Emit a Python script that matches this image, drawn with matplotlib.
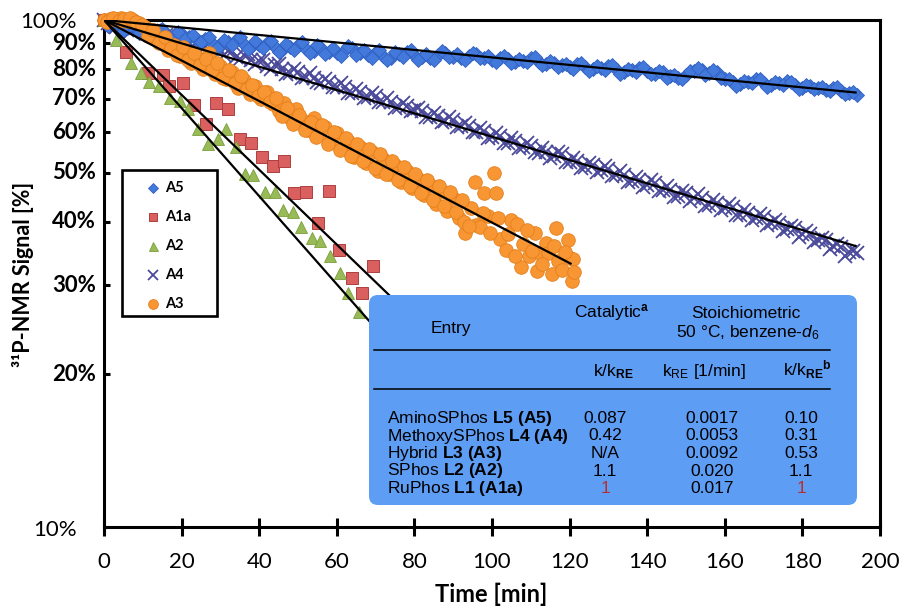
import numpy as np
import matplotlib
matplotlib.use("Agg")
import matplotlib.pyplot as plt
from matplotlib.patches import FancyBboxPatch, Rectangle
from matplotlib.lines import Line2D
from matplotlib.ticker import FixedLocator, NullLocator
import matplotlib.transforms as mtransforms

plt.rcParams['mathtext.fontset'] = 'custom'
plt.rcParams['mathtext.rm'] = 'Liberation Sans'
plt.rcParams['mathtext.it'] = 'Liberation Sans:italic'
plt.rcParams['mathtext.bf'] = 'Liberation Sans:bold'

# ---------------- data ----------------
# A5 (even minutes, then odd minutes)
t_a5 = [0, 2, 4, 6, 8, 10, 12, 14, 16, 18, 20, 22, 24, 26, 28, 30, 32, 34, 36, 38,
        40, 42, 44, 46, 48, 50, 52, 54, 56, 58, 60, 62, 64, 66, 68, 70, 72, 74, 76, 78,
        80, 82, 84, 86, 88, 90, 92, 94, 96, 98, 100, 102, 104, 106, 108, 110, 112, 114,
        116, 118, 120, 122, 124, 126, 128, 130, 132, 134, 136, 138, 140, 142, 144, 146,
        148, 150, 152, 154, 156, 158, 160, 162, 164, 166, 168, 170, 172, 174, 176, 178,
        180, 182, 184, 186, 188, 190, 192, 194]
y_a5 = [100.0, 98.8, 97.6, 96.4, 96.9, 95.6, 94.6, 95.3, 93.9, 93.0, 93.7, 92.4, 91.5,
        91.6, 89.8, 89.0, 90.4, 91.3, 89.6, 88.4, 89.3, 90.0, 88.3, 87.4, 88.6, 89.4,
        87.7, 86.8, 88.2, 86.5, 85.9, 87.1, 87.9, 86.1, 85.2, 86.4, 84.9, 84.3, 85.5,
        86.4, 85.2, 84.4, 84.1, 85.3, 86.0, 84.6, 84.0, 84.8, 85.5, 84.2, 83.4, 84.3,
        83.7, 82.5, 83.1, 84.0, 82.8, 81.8, 82.3, 81.4, 80.8, 81.9, 80.9, 79.9, 80.4,
        81.0, 79.9, 78.9, 79.6, 80.3, 79.5, 78.4, 78.9, 77.6, 77.0, 77.9, 79.4, 79.8,
        78.6, 78.9, 76.6, 75.3, 74.9, 75.6, 76.4, 75.2, 74.3, 75.0, 75.7, 74.3, 73.5,
        74.2, 73.4, 72.9, 73.3, 72.6, 71.8, 71.0]
t_a5_odd = [1, 3, 5, 7, 9, 11, 13, 15, 17, 19, 21, 23, 25, 27, 29, 31, 33, 35, 37, 39,
            41, 43, 45, 47, 49, 51, 53, 55, 57, 59, 61, 63, 65, 67, 69, 71, 73, 75, 77,
            79, 81, 83, 85, 87, 89, 91, 93, 95, 97, 99, 101, 103, 105, 107, 109, 111,
            113, 115, 117, 119, 121, 123, 125, 127, 129, 131, 133, 135, 137, 139, 141,
            143, 145, 147, 149, 151, 153, 155, 157, 159, 161, 163, 165, 167, 169, 171,
            173, 175, 177, 179, 181, 183, 185, 187, 189, 191, 193]
y_a5_odd = [97.2, 99.0, 95.2, 97.9, 94.2, 96.4, 93.0, 95.9, 92.0, 94.9, 91.6, 93.5, 90.4,
            92.4, 88.0, 91.5, 89.2, 92.4, 87.6, 90.8, 88.2, 91.0, 86.5, 89.6, 87.4, 90.4,
            85.9, 89.2, 85.6, 88.0, 85.0, 89.0, 85.4, 87.3, 84.3, 87.4, 83.4, 86.4, 84.6,
            87.3, 83.4, 85.5, 83.4, 86.7, 84.6, 85.6, 83.2, 86.2, 84.0, 85.1, 82.7, 84.9,
            82.2, 83.8, 82.6, 84.6, 81.4, 83.0, 80.9, 82.0, 80.1, 82.3, 79.5, 81.0, 79.7,
            81.5, 78.4, 80.2, 79.0, 80.8, 78.1, 79.4, 77.0, 78.0, 76.5, 79.2, 80.4, 78.0,
            79.6, 76.9, 76.4, 74.2, 75.9, 75.2, 76.6, 73.9, 75.4, 74.5, 75.6, 73.2, 74.6,
            73.0, 73.9, 72.3, 73.6, 71.6, 72.2]

# A4 (even minutes, then odd minutes)
t_a4 = list(t_a5)
y_a4 = [100.0, 98.3, 98.2, 95.7, 96.6, 95.2, 95.2, 93.1, 93.6, 91.7, 91.9, 89.9, 90.4,
        88.3, 88.8, 86.7, 86.8, 84.5, 85.2, 83.4, 83.0, 81.0, 81.7, 80.1, 78.6, 78.9,
        77.3, 77.0, 75.1, 75.5, 73.9, 73.7, 71.8, 72.1, 70.5, 70.8, 69.0, 69.0, 67.3,
        67.7, 66.3, 66.0, 64.5, 64.6, 63.3, 63.4, 61.7, 61.8, 60.2, 60.3, 58.7, 59.0,
        57.2, 57.6, 56.1, 56.5, 54.7, 55.0, 53.9, 54.3, 52.4, 52.6, 51.2, 51.7, 50.5,
        50.8, 49.4, 49.5, 48.1, 48.3, 47.3, 47.7, 46.2, 46.2, 45.0, 45.5, 44.5, 44.6,
        43.2, 43.5, 42.5, 42.8, 41.3, 41.6, 40.6, 40.8, 39.7, 39.7, 38.7, 38.8, 37.8,
        37.8, 36.8, 36.8, 35.8, 35.7, 34.8, 34.7]
t_a4_odd = list(t_a5_odd)
y_a4_odd = [98.6, 97.0, 97.8, 95.0, 96.9, 94.1, 95.3, 92.2, 93.8, 90.6, 91.8, 88.9, 90.5,
            87.1, 88.9, 85.4, 87.0, 83.6, 85.5, 81.9, 83.3, 80.0, 82.0, 78.4, 80.0, 77.0,
            78.6, 75.3, 76.5, 73.6, 75.0, 71.9, 73.2, 70.3, 71.7, 68.9, 70.2, 67.1, 68.6,
            66.0, 67.2, 64.4, 65.6, 62.9, 64.4, 61.6, 62.7, 60.1, 61.2, 58.6, 59.9, 57.3,
            58.4, 55.9, 57.1, 54.8, 55.9, 53.5, 54.8, 52.5, 53.5, 51.0, 52.3, 50.2, 51.5,
            49.2, 50.3, 47.9, 49.0, 46.9, 48.3, 45.9, 47.1, 44.8, 46.1, 44.0, 45.3, 43.0,
            44.2, 42.1, 43.4, 41.2, 42.2, 40.3, 41.4, 39.5, 40.4, 38.4, 39.3, 37.4, 38.3,
            36.5, 37.2, 35.4, 36.1, 34.3, 35.0]

# A3
t_a3 = [0, 1.5, 3, 4.5, 6, 7.5, 9, 10.5, 12, 13.5, 15, 16.5, 18, 19.5, 21, 22.5, 24,
        25.5, 27, 28.5, 30, 31.5, 33, 34.5, 36, 37.5, 39, 40.5, 42, 43.5, 45, 46.5, 48,
        49.5, 51, 52.5, 54, 55.5, 57, 58.5, 60, 61.5, 63, 64.5, 66, 67.5, 69, 70.5, 72,
        73.5, 75, 76.5, 78, 79.5, 81, 82.5, 84, 85.5, 87, 88.5, 90, 91.5, 93, 94.5,
        95.5, 96, 97, 98, 99, 100.5, 101, 102, 103.5, 105, 106.5, 107.5, 108, 109.5,
        111, 111.5, 112.5, 114, 114.5, 115.5, 116.5, 117, 118, 119.5, 120, 120.6, 121]
y_a3 = [100, 100.6, 100.3, 100.8, 99.6, 100.2, 98.6, 96.8, 94.4, 92.0, 90.6, 87.2, 89.4,
        84.8, 86.6, 82.4, 84.0, 80.2, 86.0, 78.4, 81.0, 76.6, 78.8, 73.4, 76.2, 71.6,
        74.0, 70.0, 72.2, 68.4, 66.2, 68.6, 64.0, 66.6, 63.4, 60.8, 64.2, 59.6, 61.6,
        57.4, 59.8, 55.8, 57.6, 53.6, 56.2, 52.2, 54.8, 50.4, 53.2, 49.6, 51.8, 48.0,
        50.4, 46.6, 48.6, 45.2, 47.2, 43.4, 46.0, 42.0, 44.6, 40.6, 38.0, 42.6,
        48.0, 39.4, 39.0, 45.6, 41.0, 50.0, 45.5, 37.0, 35.2, 40.3, 39.6, 32.6, 36.2,
        34.2, 38.0, 32.0, 34.6, 36.4, 34.7, 31.6, 38.8, 33.4, 32.2, 36.8, 34.0, 30.5,
        33.7]
t_a3_b = [0.75, 2.25, 3.75, 5.25, 6.75, 8.25, 9.75, 11.25, 12.75, 14.25, 15.75, 17.25,
          18.75, 20.25, 21.75, 23.25, 24.75, 26.25, 27.75, 29.25, 30.75, 32.25, 33.75,
          35.25, 36.75, 38.25, 39.75, 41.25, 42.75, 44.25, 45.75, 47.25, 48.75, 50.25,
          51.75, 53.25, 54.75, 56.25, 57.75, 59.25, 60.75, 62.25, 63.75, 65.25, 66.75,
          68.25, 69.75, 71.25, 72.75, 74.25, 75.75, 77.25, 78.75, 80.25, 81.75, 83.25,
          84.75, 86.25, 87.75, 89.25, 90.75, 92.25,
          92.8, 94.0, 97.6, 99.6, 101.6, 104.2, 106.0, 109.0, 110.2, 113.0, 116.0,
          118.8, 121.2]
y_a3_b = [99.0, 100.9, 99.4, 100.5, 101.0, 99.0, 97.6, 93.0, 95.5, 90.2, 92.4, 88.0,
          85.2, 88.6, 83.4, 86.2, 81.6, 83.6, 79.6, 82.4, 77.0, 79.8, 75.2, 77.6, 73.0,
          74.6, 70.8, 72.0, 68.8, 70.2, 64.6, 67.0, 62.4, 65.0, 60.6, 63.0, 58.8, 62.0,
          57.0, 60.2, 55.4, 58.6, 54.0, 57.0, 52.6, 55.6, 51.0, 54.4, 49.6, 52.8, 48.4,
          51.2, 47.0, 49.8, 45.6, 48.4, 44.2, 47.0, 43.0, 45.8, 41.8, 44.2,
          40.0, 39.2, 41.6, 38.0, 40.6, 37.8, 34.2, 38.6, 35.0, 33.0, 35.8, 34.8, 31.8]

# A2
t_a2 = [0, 3.1, 7.0, 9.6, 11.7, 14.3, 16.9, 19.5, 21.6, 24.2, 26.8, 29.3, 31.5, 34.1,
        36.3, 38.4, 41.4, 44.0, 46.2, 48.8, 50.9, 53.5, 55.6, 58.2, 60.8, 63.0, 65.6]
y_a2 = [100, 91.4, 82.2, 78.5, 75.6, 74.0, 70.2, 69.2, 66.6, 60.9, 56.9, 58.2, 60.9,
        56.1, 49.7, 49.4, 45.8, 45.8, 42.2, 41.9, 39.1, 37.1, 36.6, 34.2, 31.7, 29.0, 26.5]

# A1a
t_a1a = [0, 5.7, 11.3, 15.2, 16.8, 20.3, 23.3, 26.4, 28.9, 32.0, 35.0, 38.0, 40.6,
         43.6, 46.4, 49.0, 52.0, 55.2, 58.0, 60.6, 63.8, 66.4, 69.4]
y_a1a = [100, 86.6, 78.5, 78.0, 74.0, 75.0, 68.0, 62.4, 68.7, 66.6, 58.3, 57.3, 53.6,
         51.6, 52.8, 45.5, 45.8, 39.7, 46.1, 35.2, 31.0, 29.0, 32.7]

# first-order fits: rate constants (1/min) and the time where each line stops
fit_names = ['A5', 'A4', 'A3', 'A2', 'A1a']
fit_k = [0.0017, 0.0053, 0.0092, 0.020, 0.017]
fit_tend = [194, 194, 120.5, 80, 80]

x_ticks = [0, 20, 40, 60, 80, 100, 120, 140, 160, 180, 200]
y_ticks = [10, 20, 30, 40, 50, 60, 70, 80, 90, 100]
y_tick_labels = ['10%', '20%', '30%', '40%', '50%', '60%', '70%', '80%', '90%', '100%']

legend_order = ['A5', 'A1a', 'A2', 'A4', 'A3']

tbl_rows = [('AminoSPhos', 'L5 (A5)', '0.087', '0.0017', '0.10'),
            ('MethoxySPhos', 'L4 (A4)', '0.42', '0.0053', '0.31'),
            ('Hybrid', 'L3 (A3)', 'N/A', '0.0092', '0.53'),
            ('SPhos', 'L2 (A2)', '1.1', '0.020', '1.1'),
            ('RuPhos', 'L1 (A1a)', '1', '0.017', '1')]

# ---------------- figure ----------------
W, H = 901, 607
fig = plt.figure(figsize=(W / 100, H / 100), dpi=100)


def fx(px):
    return px / W


def fy(py):
    return 1 - py / H


ax = fig.add_axes([fx(104), fy(527), (880 - 104) / W, (527 - 20) / H])
ax.set_xlim(0, 200)
ax.set_yscale('log')
ax.set_ylim(10, 100)

styles = {
    'A5': dict(marker='D', ms=7.3, mfc='#4479dc', mec='#2f60c2', mew=0.6),
    'A1a': dict(marker='s', ms=8.6, mfc='#d9605e', mec='#ad3f3f', mew=0.7),
    'A2': dict(marker='^', ms=9.0, mfc='#98bb58', mec='#7a9e3c', mew=0.6),
    'A4': dict(marker='x', ms=9.6, mfc='#4b4a9a', mec='#4b4a9a', mew=1.3),
    'A3': dict(marker='o', ms=9.8, mfc='#f79633', mec='#e5801c', mew=0.6),
}
data = {'A5': (t_a5 + t_a5_odd, y_a5 + y_a5_odd),
        'A1a': (t_a1a, y_a1a),
        'A2': (t_a2, y_a2),
        'A4': (t_a4 + t_a4_odd, y_a4 + y_a4_odd),
        'A3': (t_a3 + t_a3_b, y_a3 + y_a3_b)}

for i, name in enumerate(['A4', 'A5', 'A1a', 'A2', 'A3']):
    t, y = data[name]
    ax.plot(t, y, ls='none', clip_on=False, zorder=3 + 0.1 * i, **styles[name])

for k, te in zip(fit_k, fit_tend):
    ax.plot([0, te], [100, 100 * np.exp(-k * te)], color='black', lw=1.6,
            zorder=4, solid_capstyle='butt')

for sp in ax.spines.values():
    sp.set_linewidth(2.2)

ax.xaxis.set_major_locator(FixedLocator(x_ticks))
ax.set_xticklabels([str(v) for v in x_ticks], fontsize=16, family='Lato')
ax.tick_params(axis='x', direction='inout', length=13.5, width=2.2, pad=11)
ax.yaxis.set_major_locator(FixedLocator(y_ticks))
ax.yaxis.set_minor_locator(NullLocator())
ax.tick_params(axis='y', direction='in', length=4, width=2.2, labelleft=False)

ytrans = mtransforms.blended_transform_factory(fig.transFigure, ax.transData)
for v, lab in zip(y_ticks, y_tick_labels):
    if v in (10, 100):
        off = mtransforms.ScaledTranslation(0, -0.025, fig.dpi_scale_trans)
        ax.text(fx(77), v, lab, transform=ytrans + off, ha='right', va='center',
                fontsize=16, family='Lato')
    else:
        ax.text(fx(96), v, lab, transform=ytrans, ha='right', va='center',
                fontsize=16, family='Lato', fontweight='bold')

fig.text(fx(491), fy(594), 'Time [min]', ha='center', va='center', fontsize=17,
         fontweight='bold', family='Lato')
fig.text(fx(23), fy(274), '³¹P-NMR Signal [%]', rotation=90, ha='center',
         va='center', fontsize=15.5, fontweight='bold', family='Lato')

# ---------------- legend ----------------
fig.add_artist(Rectangle((fx(122), fy(316)), (217 - 122) / W, (316 - 170) / H,
                         transform=fig.transFigure, fc='white', ec='black', lw=1.9,
                         zorder=7))
for i, name in enumerate(legend_order):
    yy = 188 + 29 * i
    st = dict(styles[name])
    st['ms'] = st['ms'] * 0.72
    fig.add_artist(Line2D([fx(153)], [fy(yy)], transform=fig.transFigure, ls='none',
                          zorder=8, **st))
    fig.text(fx(165), fy(yy), name, ha='left', va='center', fontsize=10.5,
             fontweight='bold', family='Lato', zorder=8)

# ---------------- inset table ----------------
box = FancyBboxPatch((369, H - 505), 857 - 369, 505 - 295,
                     boxstyle='round,pad=0,rounding_size=9',
                     transform=mtransforms.IdentityTransform(),
                     fc='#5e9df4', ec='none', zorder=10)
fig.add_artist(box)
for yy in (350, 389):
    fig.add_artist(Line2D([fx(374), fx(830)], [fy(yy), fy(yy)], transform=fig.transFigure,
                          color='black', lw=1.1, zorder=11))

tf = dict(family='Liberation Sans', fontsize=12.5, zorder=12)
fig.text(fx(451), fy(333), 'Entry', ha='center', va='baseline', color='black', **tf)
fig.text(fx(612), fy(317), r'Catalytic$^\mathbf{a}$', ha='center', va='baseline',
         color='black', **tf)
fig.text(fx(746), fy(318), 'Stoichiometric', ha='center', va='baseline', color='black', **tf)
fig.text(fx(748), fy(337), r'50 °C, benzene-$\mathit{d}_\mathit{6}$', ha='center',
         va='baseline', color='black', **tf)
fig.text(fx(613), fy(376), r'k/k$_\mathbf{RE}$', ha='center', va='baseline',
         color='black', **tf)
fig.text(fx(704), fy(376), r'k$_\mathrm{RE}$ [1/min]', ha='center', va='baseline',
         color='black', **tf)
fig.text(fx(807), fy(376), r'k/k$_\mathbf{RE}{}^\mathbf{b}$', ha='center', va='baseline',
         color='black', **tf)

row_base = [423, 440.5, 458, 475.5, 493]
for (nm, lig, cat, kre, rel), yb in zip(tbl_rows, row_base):
    lig_tex = lig.replace(' ', r'\ ')
    fig.text(fx(387), fy(yb), nm + r' $\mathbf{' + lig_tex + '}$', ha='left',
             va='baseline', color='black', **tf)
    c1 = '#b3302b' if cat == '1' else 'black'
    c3 = '#b3302b' if rel == '1' else 'black'
    fig.text(fx(605), fy(yb), cat, ha='center', va='baseline', color=c1, **tf)
    fig.text(fx(712), fy(yb), kre, ha='center', va='baseline', color='black', **tf)
    fig.text(fx(801), fy(yb), rel, ha='center', va='baseline', color=c3, **tf)

fig.savefig('out.png', dpi=100)
